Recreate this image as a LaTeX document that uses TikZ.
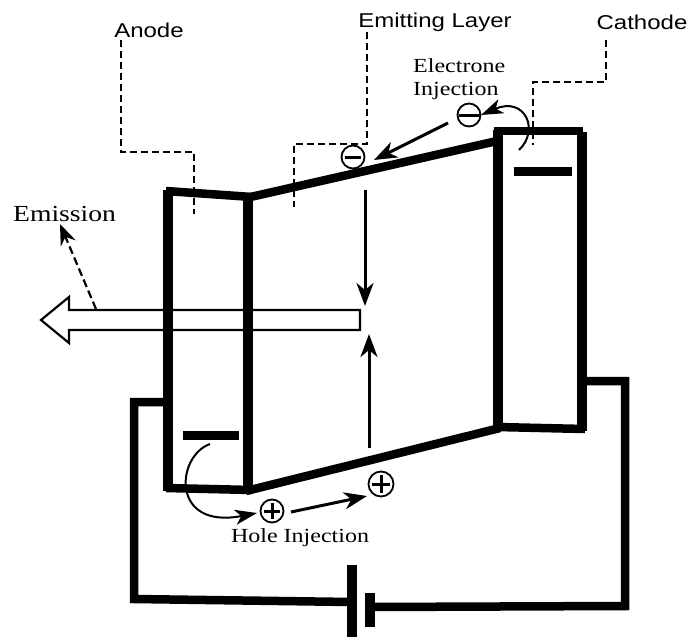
\documentclass[tikz,border=0pt]{standalone}
\usepackage{fontspec}
\newfontfamily\lserif[FakeStretch=1.2]{Liberation Serif}
\newfontfamily\lsans[FakeStretch=1.2]{Liberation Sans}
\usetikzlibrary{arrows.meta}
\tikzset{
  thick line/.style={line width=9.5pt,line cap=butt,line join=miter},
  slant line/.style={line width=8.5pt,line cap=butt},
  wire/.style={line width=8.5pt,line join=miter},
  bar/.style={line width=9pt},
  leader/.style={line width=1.8pt,dash pattern=on 7pt off 4pt},
  bigtip/.tip={Stealth[length=23pt,width=17pt,inset=7pt]},
  tip/.style={-bigtip,line width=3pt},
  curve/.style={line width=2pt},
  charge/.style={circle,draw,line width=1.8pt,minimum size=23pt,inner sep=0pt},
  sign/.style={line width=3pt},
  serif label/.style={font=\lserif\fontsize{20}{23}\selectfont,inner sep=0pt},
  sans label/.style={font=\lsans\fontsize{20}{23}\selectfont,inner sep=0pt},
}
\begin{document}
\begin{tikzpicture}[x=1pt,y=-1pt]
\useasboundingbox (0,0) rectangle (690,637);
\fill[white] (0,0) rectangle (690,637);
% emission arrow
\draw[line width=2.2pt,fill=white] (360,310)--(69,310)--(69,297)--(41,320)--(69,343)--(69,330)--(360,330)--cycle;
% electrode outlines
\draw[thick line] (168,190)--(168,491);
\draw[slant line] (166,191)--(252,197);
\draw[thick line] (248,197)--(248,491);
\draw[slant line] (166,488)--(252,490);
\draw[slant line] (246,198)--(497,141);
\draw[slant line] (246,491)--(500,428);
\draw[thick line] (498,130)--(498,429);
\draw[slant line] (494,131)--(583,131);
\draw[thick line] (582,132)--(582,431);
\draw[slant line] (497,427)--(585,429);
\draw[bar] (514,171)--(572,171);
\draw[bar] (183,435)--(239,435);
% battery and wires
\coordinate (bl) at (352,602);
\coordinate (bs) at (370,607);
\coordinate (al) at (168,402);
\coordinate (cr) at (582,381);
\draw[line width=10pt] (352,565)--(352,637);
\draw[line width=10pt] (370,593)--(370,627);
\draw[wire] (al)--(134,402)--(134,599)--(bl);
\draw[wire] (cr)--(625,381)--(625,606)--(bs);
% leaders
\node[sans label] (anode) at (149,30) {Anode};
\node[sans label] (eml) at (435,22) {Emitting Layer};
\node[sans label] (cath) at (642,22) {Cathode};
\coordinate (anodeEnd) at (194,214);
\coordinate (emlEnd) at (294,207);
\coordinate (cathEnd) at (533,145);
\draw[leader] (121,40)--(121,152)--(194,152)--(anodeEnd);
\draw[leader] (367,32)--(367,144)--(294,144)--(emlEnd);
\draw[leader] (606,40)--(606,82)--(533,82)--(cathEnd);
% charges
\node[charge] (e1) at (469,115) {};
\node[charge] (e2) at (353,157) {};
\node[charge] (h1) at (272,511) {};
\node[charge,minimum size=25pt] (h2) at (381,484) {};
\draw[sign] (459,115)--(481,115);
\draw[sign] (345,157)--(361,157);
\draw[sign] (264,511)--(280,511) (272,503)--(272,519);
\draw[sign] (372,484)--(390,484) (381,475)--(381,493);
% arrows
\coordinate (eStart) at (448,123);
\coordinate (eEnd) at (374,160);
\coordinate (hStart) at (291,512);
\coordinate (hEnd) at (367,496);
\coordinate (upS) at (369,448);
\coordinate (upE) at (369,334);
\coordinate (dnS) at (365,190);
\coordinate (dnE) at (365,306);
\coordinate (emS) at (96,309);
\coordinate (emE) at (60,224);
\coordinate (cS) at (519,150);
\coordinate (aS) at (210,444);
\draw[tip] (eStart)--(eEnd);
\draw[tip] (hStart)--(hEnd);
\draw[tip] (dnS)--(dnE);
\draw[tip] (upS)--(upE);
\draw[-{Stealth[length=21pt,width=16pt,inset=7pt]},line width=2.2pt,dash pattern=on 8pt off 4pt] (emS)--(emE);
\draw[curve,-{Stealth[length=22pt,width=15pt,inset=6pt]}] (cS) .. controls (540,130) and (525,96) .. (481,115);
\draw[curve,-{Stealth[length=22pt,width=15pt,inset=6pt]}] (aS) .. controls (176,456) and (170,530) .. (257,513);
% labels
\node[serif label,anchor=west] (elec) at (413,66) {Electrone};
\node[serif label,anchor=west] (inj) at (413,91) {Injection};
\node[serif label] (hole) at (300,538) {Hole Injection};
\node[serif label,font=\lserif\fontsize{23}{26}\selectfont,anchor=west] (emi) at (13,214) {Emission};
\end{tikzpicture}
\end{document}
